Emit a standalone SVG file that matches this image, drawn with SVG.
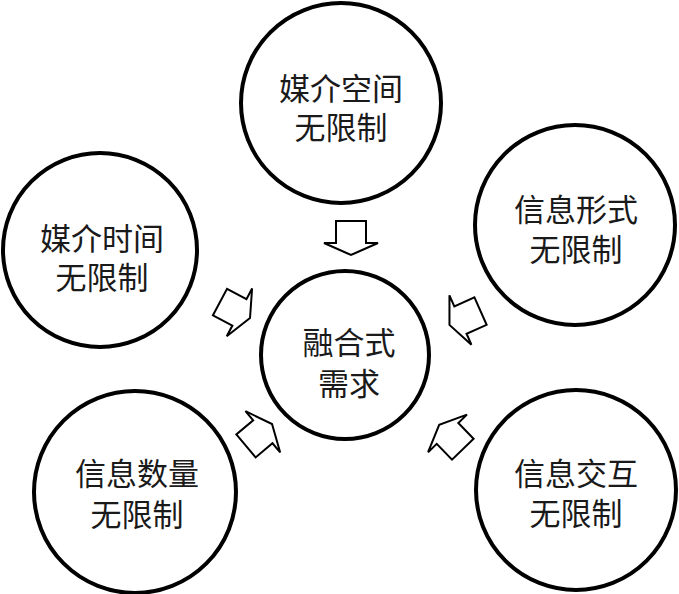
<svg xmlns="http://www.w3.org/2000/svg" width="679" height="594" viewBox="0 0 679 594">
<defs>
<style>
.c{fill:#fff;stroke:#000;stroke-width:4}
.t{font-family:"Noto Sans CJK SC","Noto Sans",sans-serif;font-size:31px;fill:#1a1a1a;text-anchor:middle}
.a{fill:#fff;stroke:#000;stroke-width:2;stroke-linejoin:miter}
</style>
<path id="arr" d="M-15,-17 H15 V5 H27 L0,17 L-27,5 H-15 Z"/>
</defs>
<rect width="679" height="594" fill="#fff"/>
<g id="n-top"><circle class="c" cx="341" cy="103" r="100"/><text class="t" x="341" y="100">媒介空间</text><text class="t" x="341" y="139">无限制</text></g>
<g id="n-left"><circle class="c" cx="100" cy="250" r="97"/><text class="t" x="102" y="250">媒介时间</text><text class="t" x="102" y="289">无限制</text></g>
<g id="n-right"><circle class="c" cx="575" cy="225" r="100"/><text class="t" x="576" y="221">信息形式</text><text class="t" x="576" y="261">无限制</text></g>
<g id="n-center"><circle class="c" cx="345" cy="355" r="84"/><text class="t" x="349" y="354">融合式</text><text class="t" x="349" y="395">需求</text></g>
<g id="n-bl"><circle class="c" cx="135" cy="492" r="101"/><text class="t" x="137" y="485">信息数量</text><text class="t" x="137" y="526">无限制</text></g>
<g id="n-br"><circle class="c" cx="576" cy="490" r="100"/><text class="t" x="576" y="485">信息交互</text><text class="t" x="576" y="525">无限制</text></g>
<g id="connectors">
<use href="#arr" class="a" transform="translate(351,238)"/>
<use href="#arr" class="a" transform="translate(235,310) rotate(-62)"/>
<use href="#arr" class="a" transform="translate(465,318) rotate(66)"/>
<use href="#arr" class="a" transform="translate(259,435) rotate(-130)"/>
<use href="#arr" class="a" transform="translate(451,437) rotate(136)"/>
</g>
</svg>
